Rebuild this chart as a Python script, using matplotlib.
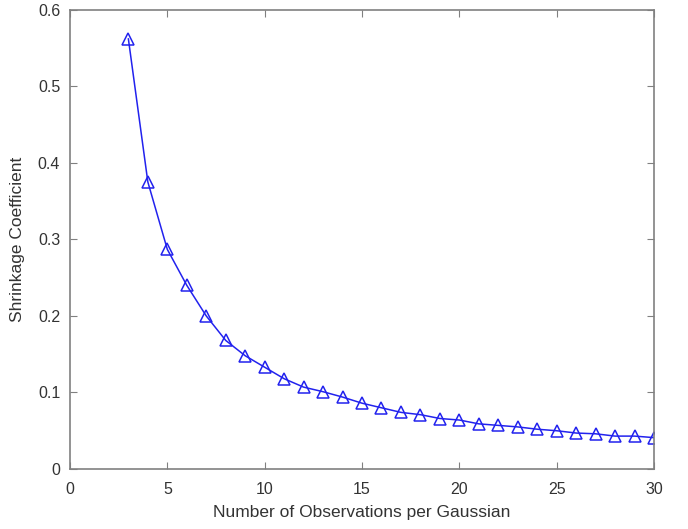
import matplotlib.pyplot as plt

plt.rcParams['font.family'] = ['Liberation Sans', 'DejaVu Sans']

# observations per Gaussian and the shrinkage coefficient
n_obs = list(range(3, 31))
shrink = [0.562, 0.375, 0.287, 0.240, 0.200, 0.168, 0.148, 0.133, 0.118, 0.107,
          0.101, 0.094, 0.086, 0.080, 0.074, 0.071, 0.066, 0.064, 0.059, 0.057,
          0.055, 0.052, 0.050, 0.047, 0.046, 0.043, 0.043, 0.041]

xticks = [0, 5, 10, 15, 20, 25, 30]
yticks = [0, 0.1, 0.2, 0.3, 0.4, 0.5, 0.6]

fig = plt.figure(figsize=(6.88, 5.29), dpi=100)
ax = fig.add_axes([0.1017, 0.1134, 0.849, 0.868])

ax.plot(n_obs, shrink, color="#2222ee", linewidth=1.1, marker="^",
        markersize=8, markerfacecolor="none", markeredgecolor="#2222ee",
        markeredgewidth=1.1)

ax.set_xlim(0, 30)
ax.set_ylim(0, 0.6)
ax.set_xticks(xticks)
ax.set_yticks(yticks)
ax.set_yticklabels(["0", "0.1", "0.2", "0.3", "0.4", "0.5", "0.6"])

for s in ax.spines.values():
    s.set_color("#808080")
    s.set_linewidth(1.2)
ax.tick_params(direction="in", top=True, right=True, length=5,
               color="#808080", labelcolor="#333333", labelsize=11.5)
ax.tick_params(axis="x", pad=9)
ax.tick_params(axis="y", pad=7)

ax.set_xlabel("Number of Observations per Gaussian", fontsize=12.5,
              color="#333333", labelpad=6)
ax.set_ylabel("Shrinkage Coefficient", fontsize=12.5, color="#333333",
              labelpad=9)

fig.savefig("out.png")
